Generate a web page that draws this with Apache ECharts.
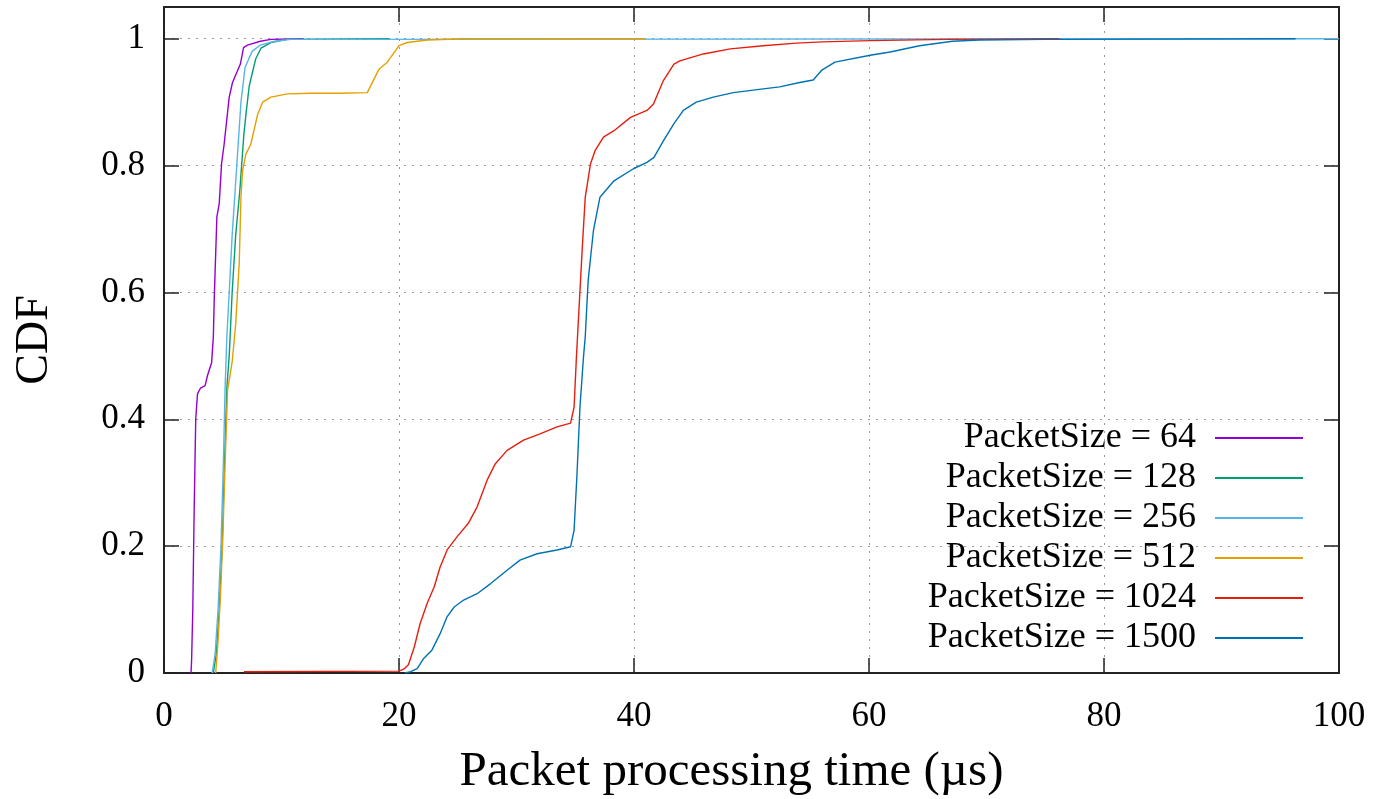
<!DOCTYPE html>
<html>
<head>
<meta charset="utf-8">
<script src="https://cdn.jsdelivr.net/npm/echarts@6/dist/echarts.min.js"></script>
<style>
  html, body { margin: 0; padding: 0; background: #fff; }
  #chart { width: 1396px; height: 799px; }
</style>
</head>
<body>
<div id="chart"></div>
<script>
// CDF curves: [time in us, cumulative fraction]
var names = ['PacketSize = 64', 'PacketSize = 128', 'PacketSize = 256', 'PacketSize = 512', 'PacketSize = 1024', 'PacketSize = 1500'];
var colors = ['#9400d3', '#009e73', '#56b4e9', '#e69f00', '#e51e10', '#0072b2'];
var xTicks = [0, 20, 40, 60, 80, 100];
var yTicks = [0, 0.2, 0.4, 0.6, 0.8, 1];

var cdf64 = [[2.3, 0], [2.35, 0.02], [2.45, 0.1], [2.57, 0.26], [2.7, 0.4], [2.85, 0.44], [3.1, 0.449], [3.5, 0.453],
  [3.7, 0.469], [4.05, 0.489], [4.2, 0.53], [4.28, 0.593], [4.5, 0.719], [4.7, 0.74], [4.9, 0.803], [5.12, 0.834],
  [5.55, 0.908], [5.83, 0.931], [6.5, 0.96], [6.77, 0.986], [7.1, 0.99], [8.2, 0.996], [9.1, 0.999], [11.9, 1]];
var cdf128 = [[4.2, 0], [4.45, 0.03], [4.7, 0.1], [4.95, 0.2], [5.15, 0.33], [5.35, 0.45], [5.55, 0.5], [5.8, 0.6],
  [6.1, 0.69], [6.45, 0.76], [6.8, 0.85], [7.0, 0.885], [7.25, 0.925], [7.8, 0.968], [8.25, 0.985], [9.1, 0.994],
  [10.5, 0.999], [19.2, 1]];
var cdf256 = [[4.1, 0], [4.35, 0.03], [4.6, 0.1], [4.85, 0.2], [5.05, 0.33], [5.2, 0.45], [5.35, 0.53], [5.55, 0.6],
  [5.8, 0.69], [6.05, 0.76], [6.3, 0.83], [6.55, 0.9], [6.9, 0.955], [7.5, 0.98], [8.2, 0.99], [9.4, 0.996],
  [10.8, 0.999], [100, 1]];
var cdf512 = [[4.4, 0], [4.6, 0.05], [4.8, 0.12], [5.0, 0.21], [5.2, 0.33], [5.41, 0.446], [5.8, 0.49], [6.1, 0.55],
  [6.4, 0.645], [6.55, 0.75], [6.69, 0.792], [6.97, 0.818], [7.39, 0.834], [7.96, 0.88], [8.39, 0.9], [9.1, 0.908],
  [10.5, 0.913], [12.5, 0.914], [15, 0.914], [17.3, 0.915], [18.3, 0.952], [19.0, 0.963], [20.0, 0.989],
  [20.7, 0.994], [22.4, 0.998], [25.5, 1], [41, 1]];
var cdf1024 = [[6.8, 0.002], [20.0, 0.003], [20.4, 0.006], [20.8, 0.013], [21.3, 0.041], [21.8, 0.078], [22.4, 0.11],
  [23.0, 0.136], [23.5, 0.167], [24.1, 0.194], [24.95, 0.215], [25.9, 0.236], [26.65, 0.262], [27.5, 0.304],
  [28.2, 0.33], [29.2, 0.351], [30.6, 0.367], [32.0, 0.377], [33.45, 0.388], [34.6, 0.394], [34.9, 0.419],
  [35.1, 0.498], [35.25, 0.55], [35.6, 0.671], [35.85, 0.75], [36.3, 0.803], [36.7, 0.824], [37.4, 0.845],
  [38.3, 0.855], [39.7, 0.876], [41.1, 0.887], [41.66, 0.897], [42.5, 0.934], [43.4, 0.96], [43.9, 0.965],
  [45.9, 0.976], [48.2, 0.984], [51.0, 0.989], [53.8, 0.993], [56, 0.995], [60.1, 0.997], [66.6, 0.999], [76.2, 1]];
var cdf1500 = [[20.5, 0], [21.0, 0.002], [21.55, 0.007], [22.1, 0.023], [22.8, 0.036], [23.5, 0.062], [24.1, 0.089],
  [24.7, 0.104], [25.5, 0.115], [26.65, 0.125], [27.8, 0.141], [29.2, 0.162], [30.3, 0.178], [31.75, 0.188],
  [33.45, 0.194], [34.6, 0.199], [34.9, 0.225], [35.15, 0.314], [35.4, 0.419], [35.7, 0.498], [35.85, 0.53],
  [36.1, 0.619], [36.55, 0.698], [37.1, 0.75], [38.3, 0.776], [39.95, 0.795], [41.1, 0.805], [41.7, 0.813],
  [42.5, 0.839], [43.4, 0.866], [44.2, 0.887], [45.3, 0.9], [46.75, 0.908], [48.45, 0.915], [51.0, 0.921],
  [52.4, 0.924], [54.1, 0.931], [55.25, 0.935], [55.96, 0.95], [57.1, 0.963], [60.1, 0.974], [61.8, 0.979],
  [64.3, 0.989], [67.1, 0.996], [69.4, 0.998], [75, 0.999], [96.3, 1]];

var curves = [cdf64, cdf128, cdf256, cdf512, cdf1024, cdf1500];

var font = '"Liberation Serif", "Times New Roman", serif';
var frame = '#222';

var chart = echarts.init(document.getElementById('chart'), null, { renderer: 'canvas' });

function tickLabel(v, ticks) {
  for (var i = 0; i < ticks.length; i++) {
    if (Math.abs(ticks[i] - v) < 1e-6) return String(ticks[i]);
  }
  return '';
}

// top and right axes only draw the frame and the inward ticks
var frameAxis = {
  axisLine: { show: true, onZero: false, lineStyle: { color: frame, width: 2 } },
  axisTick: { show: true, inside: true, length: 15, lineStyle: { color: frame, width: 1.5 } },
  axisLabel: { show: false },
  splitLine: { show: false }
};

chart.setOption({
  animation: false,
  backgroundColor: '#fff',
  grid: { left: 164, right: 57, top: 7, bottom: 126, containLabel: false, outerBoundsMode: 'none' },
  xAxis: [
    {
      type: 'value', min: 0, max: 100, interval: 20,
      name: 'Packet processing time (\u00b5s)',
      nameLocation: 'middle', nameGap: 75,
      nameTextStyle: { fontFamily: font, fontSize: 49, color: '#000', padding: [0, 40, 0, 0] },
      axisLine: { show: true, onZero: false, lineStyle: { color: frame, width: 2 } },
      axisTick: { show: true, inside: true, length: 15, lineStyle: { color: frame, width: 1.5 } },
      axisLabel: {
        fontFamily: font, fontSize: 35, color: '#000', margin: 26,
        formatter: function(v) { return tickLabel(v, xTicks); }
      },
      splitLine: { show: true, lineStyle: { color: '#9a9a9a', width: 1, type: [2, 6] } }
    },
    Object.assign({ type: 'value', min: 0, max: 100, interval: 20, position: 'top' }, frameAxis)
  ],
  yAxis: [
    {
      type: 'value', min: 0, max: 1.05, interval: 0.2,
      name: 'CDF',
      nameLocation: 'middle', nameGap: 106, nameRotate: 90,
      nameTextStyle: { fontFamily: font, fontSize: 46, color: '#000' },
      axisLine: { show: true, onZero: false, lineStyle: { color: frame, width: 2 } },
      axisTick: { show: true, inside: true, length: 15, lineStyle: { color: frame, width: 1.5 } },
      axisLabel: {
        fontFamily: font, fontSize: 35, color: '#000', margin: 19, showMaxLabel: false,
        formatter: function(v) { return tickLabel(v, yTicks); }
      },
      splitLine: { show: true, lineStyle: { color: '#9a9a9a', width: 1, type: [2, 6] } }
    },
    Object.assign({ type: 'value', min: 0, max: 1.05, interval: 0.2, position: 'right' }, frameAxis)
  ],
  legend: {
    data: names,
    orient: 'vertical',
    right: 93,
    top: 418,
    align: 'right',
    icon: 'rect',
    itemWidth: 88,
    itemHeight: 2,
    itemGap: 0,
    padding: 0,
    textStyle: { fontFamily: font, fontSize: 36, color: '#000', lineHeight: 40, padding: [0, 14, 0, 0] }
  },
  series: curves.map(function(d, i) {
    return {
      name: names[i],
      type: 'line',
      data: d,
      xAxisIndex: 0,
      yAxisIndex: 0,
      showSymbol: false,
      symbol: 'none',
      smooth: false,
      lineStyle: { color: colors[i], width: 1.4 },
      itemStyle: { color: colors[i] },
      z: 2 + i
    };
  })
});
</script>
</body>
</html>
